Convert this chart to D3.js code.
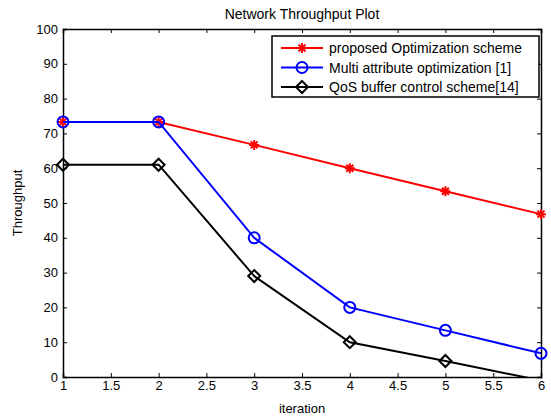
<!DOCTYPE html>
<html>
<head>
<meta charset="utf-8">
<script src="https://cdn.jsdelivr.net/npm/d3@7"></script>
<style>
  body { margin: 0; background: #fff; }
  text { font-family: "Liberation Sans", Arial, sans-serif; fill: #000; }
</style>
</head>
<body>
<div id="chart"></div>
<script>
const iterations = [1, 2, 3, 4, 5, 6];
const proposed = [73.3, 73.3, 66.7, 60, 53.4, 46.8];
const multiAttr = [73.3, 73.3, 40, 20, 13.4, 6.8];
const qosBuffer = [61, 61, 29, 10, 4.6, -1];
const xTicks = [1, 1.5, 2, 2.5, 3, 3.5, 4, 4.5, 5, 5.5, 6];
const yTicks = [0, 10, 20, 30, 40, 50, 60, 70, 80, 90, 100];

const series = [
  { name: 'proposed Optimization scheme', values: proposed, color: '#ff0000', marker: 'star' },
  { name: 'Multi attribute optimization [1]', values: multiAttr, color: '#0000ff', marker: 'circle' },
  { name: 'QoS buffer control scheme[14]', values: qosBuffer, color: '#000000', marker: 'diamond' }
];

const w = 551, h = 417;
const m = { left: 63, right: 10, top: 29, bottom: 40 };

const svg = d3.select('#chart').append('svg')
  .attr('width', w)
  .attr('height', h);

const x = d3.scaleLinear().domain([1, 6]).range([m.left, w - m.right]);
const y = d3.scaleLinear().domain([0, 100]).range([h - m.bottom, m.top]);

svg.append('defs').append('clipPath').attr('id', 'plotclip')
  .append('rect')
  .attr('x', x(1) - 8).attr('y', y(100) - 8)
  .attr('width', x(6) - x(1) + 16)
  .attr('height', y(0) - y(100) + 8);

const fmt = d3.format('');

// axes, ticks inward on all sides like matlab box
svg.append('g')
  .attr('transform', `translate(0, ${y(0)})`)
  .call(d3.axisBottom(x).tickValues(xTicks).tickSize(-4).tickPadding(4).tickFormat(fmt))
  .call(g => g.selectAll('text').attr('font-size', 13));
svg.append('g')
  .attr('transform', `translate(0, ${y(100)})`)
  .call(d3.axisTop(x).tickValues(xTicks).tickSize(-4).tickFormat(''));
svg.append('g')
  .attr('transform', `translate(${x(1)}, 0)`)
  .call(d3.axisLeft(y).tickValues(yTicks).tickSize(-4).tickPadding(5))
  .call(g => g.selectAll('text').attr('font-size', 13));
svg.append('g')
  .attr('transform', `translate(${x(6)}, 0)`)
  .call(d3.axisRight(y).tickValues(yTicks).tickSize(-4).tickFormat(''));

svg.selectAll('.domain').attr('stroke', '#000').attr('stroke-width', 1.5);
svg.selectAll('.tick line').attr('stroke', '#000');
svg.selectAll('.tick text').attr('font-family', '"Liberation Sans", Arial, sans-serif').attr('fill', '#000');

const line = d3.line()
  .x((d, i) => x(iterations[i]))
  .y(d => y(d));

function drawMarker(g, type, color) {
  if (type === 'circle') {
    g.append('circle').attr('r', 5.5).attr('fill', 'none').attr('stroke', color).attr('stroke-width', 2);
  } else if (type === 'diamond') {
    g.append('path').attr('d', 'M0,-6L6,0L0,6L-6,0Z').attr('fill', 'none').attr('stroke', color).attr('stroke-width', 2);
  } else {
    g.append('path')
      .attr('d', 'M-5,0L5,0M0,-5L0,5M-3.5,-3.5L3.5,3.5M-3.5,3.5L3.5,-3.5')
      .attr('fill', 'none').attr('stroke', color).attr('stroke-width', 2);
  }
}

const plot = svg.append('g').attr('clip-path', 'url(#plotclip)');

series.forEach(s => {
  plot.append('path')
    .attr('d', line(s.values))
    .attr('fill', 'none')
    .attr('stroke', s.color)
    .attr('stroke-width', 2);
  s.values.forEach((v, i) => {
    if (v < 0) return;
    const g = plot.append('g').attr('transform', `translate(${x(iterations[i])}, ${y(v)})`);
    drawMarker(g, s.marker, s.color);
  });
});

// title and labels
svg.append('text')
  .attr('x', (x(1) + x(6)) / 2).attr('y', 19)
  .attr('text-anchor', 'middle').attr('font-size', 14)
  .text('Network Throughput Plot');
svg.append('text')
  .attr('x', (x(1) + x(6)) / 2).attr('y', h - 4)
  .attr('text-anchor', 'middle').attr('font-size', 13)
  .text('iteration');
svg.append('text')
  .attr('transform', `translate(22, ${(y(0) + y(100)) / 2}) rotate(-90)`)
  .attr('text-anchor', 'middle').attr('font-size', 13)
  .text('Throughput');

// legend
const lg = svg.append('g').attr('transform', 'translate(272, 36)');
lg.append('rect')
  .attr('width', 267).attr('height', 61)
  .attr('fill', '#fff').attr('stroke', '#000').attr('stroke-width', 1.5);
series.forEach((s, i) => {
  const row = lg.append('g').attr('transform', `translate(0, ${12 + i * 19.5})`);
  row.append('line')
    .attr('x1', 9).attr('x2', 51)
    .attr('stroke', s.color).attr('stroke-width', 2);
  drawMarker(row.append('g').attr('transform', 'translate(30, 0)'), s.marker, s.color);
  row.append('text')
    .attr('x', 57).attr('y', 5)
    .attr('font-size', 14)
    .text(s.name);
});
</script>
</body>
</html>
